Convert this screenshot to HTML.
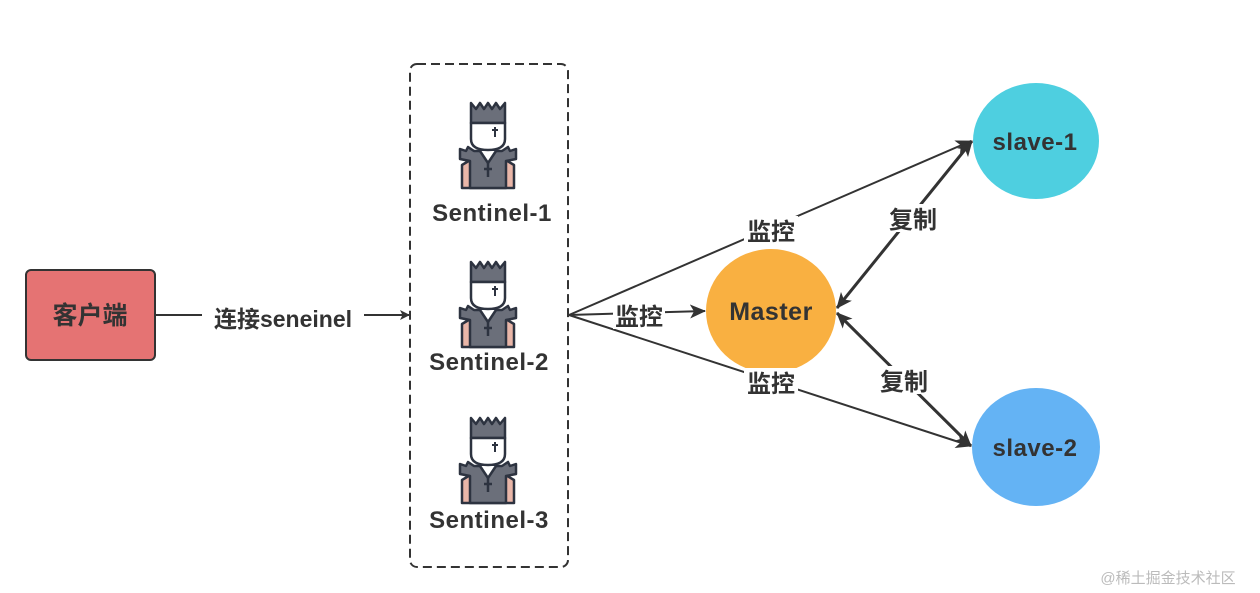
<!DOCTYPE html>
<html><head><meta charset="utf-8"><style>
html,body{margin:0;padding:0;background:#fff;}
svg{display:block}
text{font-family:"Liberation Sans","Noto Sans CJK SC",sans-serif;font-weight:bold;fill:#333;}
</style></head><body>
<svg width="1260" height="593" viewBox="0 0 1260 593" xmlns="http://www.w3.org/2000/svg">
<defs>
<marker id="a" markerWidth="10" markerHeight="10" refX="9" refY="5" orient="auto" markerUnits="userSpaceOnUse" viewBox="0 0 10 10">
<path d="M0,0 L10,5 L0,10 L2.5,5 Z" fill="#333"/></marker>
<marker id="b" markerWidth="16" markerHeight="14" refX="15" refY="7" orient="auto" markerUnits="userSpaceOnUse" viewBox="0 0 16 14">
<path d="M0,0 L16,7 L0,14 L4,7 Z" fill="#333"/></marker>
<marker id="bs" markerWidth="16" markerHeight="14" refX="1" refY="7" orient="auto" markerUnits="userSpaceOnUse" viewBox="0 0 16 14">
<path d="M16,0 L0,7 L16,14 L12,7 Z" fill="#333"/></marker>
<g id="icon" stroke="#2d3340" stroke-width="2.5" stroke-linejoin="round">
<path d="M4,85 L4,62 L14,56 L46,56 L56,62 L56,85 Z" fill="#e9b6a8"/>
<path d="M12,85 L12,58 L2,56 L2,46 L8,48 L10,44 L16,48 L44,48 L50,44 L52,48 L58,46 L58,56 L48,58 L48,85 Z" fill="#6b6f7a"/>
<path d="M22,48 L30,60 L38,48" fill="#fff"/>
<line x1="30" y1="60" x2="30" y2="74"/><line x1="26" y1="66" x2="34" y2="66"/>
<path d="M13,0 L18,6 L22,0 L26,6 L30,0 L34,6 L38,0 L42,6 L47,0 L47,20 L13,20 Z" fill="#6b6f7a"/>
<path d="M13,20 L47,20 L47,36 Q47,47 30,47 Q13,47 13,36 Z" fill="#fff"/>
<line x1="37" y1="24" x2="37" y2="34" stroke-width="2"/><line x1="34" y1="27" x2="40" y2="27" stroke-width="2"/>
</g>
</defs>

<rect x="26" y="270" width="129" height="90" rx="5" fill="#e57373" stroke="#333" stroke-width="2"/>
<text x="90" y="324" font-size="25" text-anchor="middle">客户端</text>

<line x1="155" y1="315" x2="409" y2="315" stroke="#333" stroke-width="2" marker-end="url(#a)"/>
<rect x="202" y="300" width="162" height="30" fill="#fff"/>
<text x="283" y="327" font-size="23" text-anchor="middle">连接seneinel</text>

<rect x="410" y="64" width="158" height="503" rx="7" fill="none" stroke="#333" stroke-width="2" stroke-dasharray="9,5"/>

<use href="#icon" x="458" y="103"/>
<use href="#icon" x="458" y="262"/>
<use href="#icon" x="458" y="418"/>
<text x="492" y="221" font-size="24" text-anchor="middle" letter-spacing="0.5">Sentinel-1</text>
<text x="489" y="370" font-size="24" text-anchor="middle" letter-spacing="0.5">Sentinel-2</text>
<text x="489" y="528" font-size="24" text-anchor="middle" letter-spacing="0.5">Sentinel-3</text>

<ellipse cx="771" cy="311" rx="65" ry="62" fill="#f9b041"/>
<ellipse cx="1036" cy="141" rx="63" ry="58" fill="#4ecfe0"/>
<ellipse cx="1036" cy="447" rx="64" ry="59" fill="#64b3f4"/>
<text x="771" y="320" font-size="25" text-anchor="middle" letter-spacing="0.5">Master</text>
<text x="1035" y="150" font-size="24" text-anchor="middle" letter-spacing="0.5">slave-1</text>
<text x="1035" y="456" font-size="24" text-anchor="middle" letter-spacing="0.5">slave-2</text>

<line x1="569" y1="315" x2="971" y2="141" stroke="#333" stroke-width="2" marker-end="url(#b)"/>
<line x1="569" y1="315" x2="705" y2="311" stroke="#333" stroke-width="2" marker-end="url(#b)"/>
<line x1="569" y1="315" x2="971" y2="446" stroke="#333" stroke-width="2" marker-end="url(#b)"/>
<line x1="837" y1="308" x2="972" y2="141" stroke="#333" stroke-width="3" marker-start="url(#bs)" marker-end="url(#b)"/>
<line x1="837" y1="313" x2="971" y2="446" stroke="#333" stroke-width="3" marker-start="url(#bs)" marker-end="url(#b)"/>

<rect x="744" y="216" width="54" height="28" fill="#fff"/>
<text x="771" y="240" font-size="24" text-anchor="middle">监控</text>
<rect x="613" y="301" width="52" height="28" fill="#fff"/>
<text x="639" y="325" font-size="24" text-anchor="middle">监控</text>
<rect x="744" y="368" width="54" height="28" fill="#fff"/>
<text x="771" y="392" font-size="24" text-anchor="middle">监控</text>
<rect x="886" y="204" width="54" height="28" fill="#fff"/>
<text x="913" y="228" font-size="24" text-anchor="middle">复制</text>
<rect x="877" y="366" width="54" height="28" fill="#fff"/>
<text x="904" y="390" font-size="24" text-anchor="middle">复制</text>

<text x="1168" y="583" font-size="15" text-anchor="middle" style="font-weight:normal;fill:#bbb">@稀土掘金技术社区</text>
</svg>
</body></html>
